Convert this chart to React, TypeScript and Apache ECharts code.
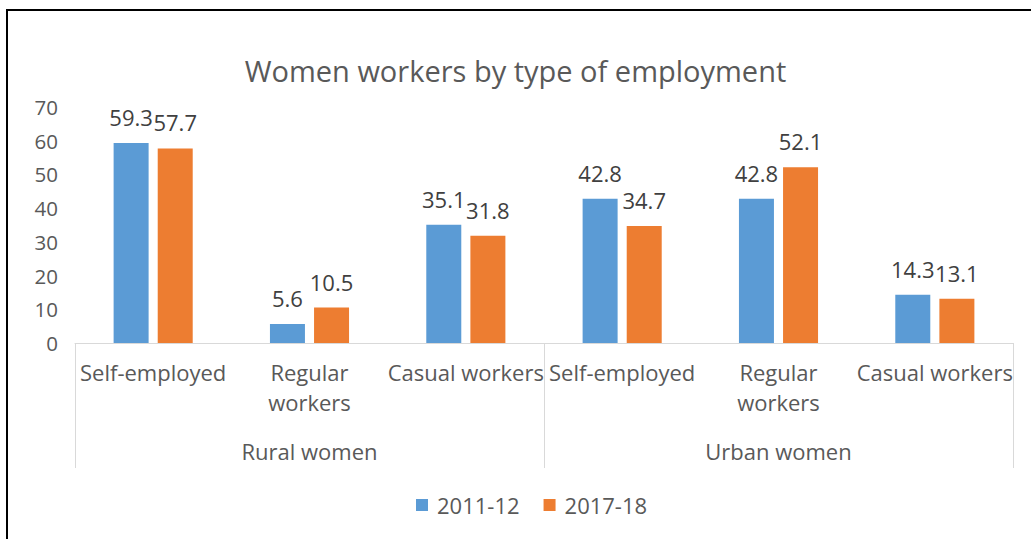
import React, { useEffect, useRef } from "react";
import * as echarts from "echarts";

const categories = ["Self-employed", "Regular\nworkers", "Casual workers", "Self-employed", "Regular\nworkers", "Casual workers"];
const groups = ["Rural women", "Urban women"];
const series2011 = [59.3, 5.6, 35.1, 42.8, 42.8, 14.3];
const series2017 = [57.7, 10.5, 31.8, 34.7, 52.1, 13.1];
const seriesNames = ["2011-12", "2017-18"];

const FONT = "Open Sans";

export default function App() {
  const ref = useRef<HTMLDivElement>(null);
  useEffect(() => {
    if (!ref.current) return;
    const chart = echarts.init(ref.current, undefined, { renderer: "svg" });
    const labelStyle = {
      show: true,
      position: "top" as const,
      distance: 15,
      color: "#404040",
      fontSize: 22,
      fontFamily: FONT,
    };
    chart.setOption({
      animation: false,
      backgroundColor: "#ffffff",
      title: {
        text: "Women workers by type of employment",
        left: "center",
        top: 51,
        textStyle: { color: "#595959", fontSize: 29, fontWeight: "normal", fontFamily: FONT },
      },
      graphic: [
        {
          type: "rect",
          shape: { x: 7, y: 10, width: 1060, height: 560 },
          style: { fill: "none", stroke: "#000000", lineWidth: 2 },
          silent: true,
        },
      ],
      legend: {
        data: seriesNames,
        bottom: 18,
        left: 411,
        itemWidth: 12,
        itemHeight: 12,
        itemGap: 24,
        icon: "rect",
        textStyle: { color: "#595959", fontSize: 22, fontFamily: FONT, padding: [0, 0, 0, 4] },
      },
      grid: { left: 75, right: 18, top: 107, bottom: 196 },
      xAxis: [
        {
          type: "category",
          data: categories,
          position: "bottom",
          axisLine: { show: true, lineStyle: { color: "#d9d9d9", width: 1 } },
          axisTick: { show: false },
          axisLabel: {
            color: "#595959",
            fontSize: 22,
            fontFamily: FONT,
            lineHeight: 30,
            margin: 14,
            interval: 0,
          },
        },
        {
          type: "category",
          data: groups,
          position: "bottom",
          axisLine: { show: false },
          axisTick: { show: true, length: 125, lineStyle: { color: "#d9d9d9", width: 1 } },
          axisLabel: {
            color: "#595959",
            fontSize: 22,
            fontFamily: FONT,
            lineHeight: 26,
            margin: 95,
            interval: 0,
          },
        },
      ],
      yAxis: {
        type: "value",
        min: 0,
        max: 70,
        interval: 10,
        axisLine: { show: false },
        axisTick: { show: false },
        splitLine: { show: false },
        axisLabel: { color: "#595959", fontSize: 20.5, fontFamily: FONT, margin: 17 },
      },
      series: [
        {
          name: seriesNames[0],
          type: "bar",
          data: series2011,
          barWidth: 35,
          barGap: "26%",
          itemStyle: { color: "#5B9BD5" },
          label: labelStyle,
        },
        {
          name: seriesNames[1],
          type: "bar",
          data: series2017,
          barWidth: 35,
          barGap: "26%",
          itemStyle: { color: "#ED7D31" },
          label: labelStyle,
        },
      ],
    });
    return () => chart.dispose();
  }, []);
  return (
    <div
      ref={ref}
      style={{ position: "fixed", left: 0, top: 0, width: 1031, height: 539 }}
    />
  );
}
